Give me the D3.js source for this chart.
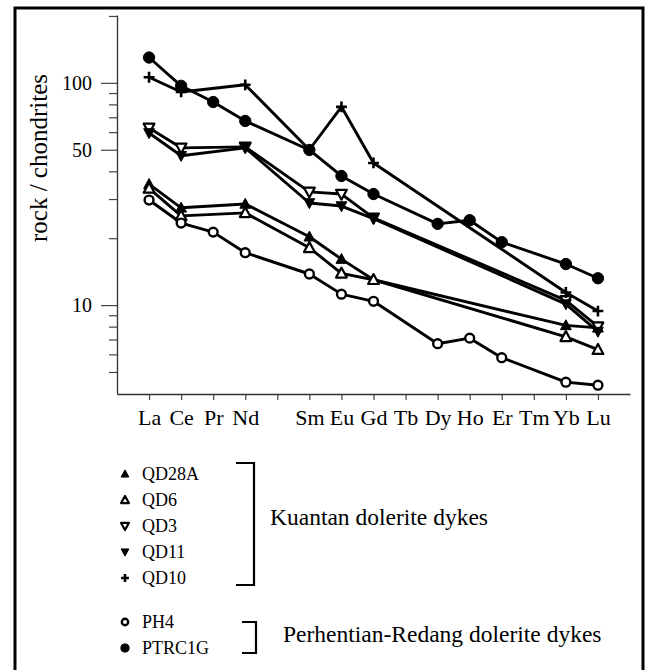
<!DOCTYPE html>
<html>
<head>
<meta charset="utf-8">
<script src="https://cdn.jsdelivr.net/npm/d3@7/dist/d3.min.js"></script>
<style>
  html, body { margin: 0; padding: 0; background: #fff; }
  svg { display: block; }
  text { font-family: "Liberation Serif", "DejaVu Serif", serif; fill: #000; }
</style>
</head>
<body>
<svg id="chart" width="649" height="670"></svg>
<script>
// Rare earth elements in atomic order (Pm has no analysis, only a tick)
const elements = ["La", "Ce", "Pr", "Nd", "Pm", "Sm", "Eu", "Gd", "Tb", "Dy", "Ho", "Er", "Tm", "Yb", "Lu"];
const tickLabels = ["La", "Ce", "Pr", "Nd", "", "Sm", "Eu", "Gd", "Tb", "Dy", "Ho", "Er", "Tm", "Yb", "Lu"];

// Chondrite-normalised abundances (null = not determined)
const QD28A  = [35.0, 27.4, null, 28.5, null, 20.3, 16.1, 13.0, null, null, null, null, null, 8.1, 7.9];
const QD6    = [33.5, 25.2, null, 26.0, null, 18.1, 13.9, 13.0, null, null, null, null, null, 7.2, 6.3];
const QD3    = [62.7, 51.0, null, 51.5, null, 32.3, 31.6, 24.7, null, null, null, null, null, 10.5, 8.0];
const QD11   = [59.5, 47.0, null, 51.0, null, 28.8, 27.9, 24.5, null, null, null, null, null, 10.1, 7.6];
const QD10   = [106, 91, null, 98, null, 50, 78, 43.6, null, null, null, null, null, 11.4, 9.4];
const PH4    = [29.7, 23.4, 21.3, 17.2, null, 13.8, 11.2, 10.4, null, 6.7, 7.1, 5.8, null, 4.5, 4.36];
const PTRC1G = [130, 97, 82, 67.4, null, 49.9, 38.1, 31.6, null, 23.2, 24.1, 19.2, null, 15.3, 13.2];

const yMajorTicks = [10, 50, 100];
const yMinorTicks = [5, 6, 7, 8, 9, 20, 30, 40, 60, 70, 80, 90, 200];

const kuantanLabel = "Kuantan dolerite dykes";
const perhentianLabel = "Perhentian-Redang dolerite dykes";

const series = [
  { name: "QD28A",  values: QD28A,  symbol: "triUp",   filled: true },
  { name: "QD6",    values: QD6,    symbol: "triUp",   filled: false },
  { name: "QD3",    values: QD3,    symbol: "triDown", filled: false },
  { name: "QD11",   values: QD11,   symbol: "triDown", filled: true },
  { name: "QD10",   values: QD10,   symbol: "plus",    filled: true },
  { name: "PH4",    values: PH4,    symbol: "circle",  filled: false },
  { name: "PTRC1G", values: PTRC1G, symbol: "circle",  filled: true }
];

const svg = d3.select("#chart");

// outer frame
svg.append("rect")
  .attr("x", 15).attr("y", 8).attr("width", 628).attr("height", 666)
  .attr("fill", "none").attr("stroke", "#000").attr("stroke-width", 3);

const x = d3.scaleLinear().domain([-1, elements.length]).range([117, 630]);
const y = d3.scaleLog().domain([3.98, 202]).range([394, 15]);

// axes
const axisG = svg.append("g");
const yAxis = axisG.append("g").attr("transform", "translate(117,0)")
  .call(d3.axisLeft(y).tickValues(yMajorTicks).tickFormat(d3.format("d"))
    .tickSize(16).tickSizeOuter(0).tickPadding(9));
const yMinor = axisG.append("g").attr("transform", "translate(117,0)")
  .call(d3.axisLeft(y).tickValues(yMinorTicks).tickFormat("").tickSize(8).tickSizeOuter(0));
const xAxis = axisG.append("g").attr("transform", "translate(0,394)")
  .call(d3.axisBottom(x).tickValues(d3.range(elements.length)).tickFormat(i => tickLabels[i])
    .tickSize(6).tickSizeOuter(0).tickPadding(9));

[yAxis, yMinor, xAxis].forEach(g => {
  g.select(".domain").attr("stroke", "#333").attr("stroke-width", 1.3);
  g.selectAll(".tick line").attr("stroke", "#444").attr("stroke-width", 1.2);
});
yMinor.select(".domain").remove();
yAxis.selectAll(".tick text").attr("font-size", 20).attr("fill", "#000");
xAxis.selectAll(".tick text").attr("font-size", 22).attr("fill", "#000");

// y title
svg.append("text")
  .attr("transform", "translate(47,158) rotate(-90)")
  .attr("text-anchor", "middle")
  .attr("font-size", 25)
  .text("rock / chondrites");

// marker drawing
function drawMarker(g, sym, filled, s) {
  if (sym === "circle") {
    g.append("circle").attr("r", filled ? s * 1.05 : s * 0.82)
      .attr("fill", filled ? "#000" : "#fff")
      .attr("stroke", "#000").attr("stroke-width", filled ? 1 : 2.4);
  } else if (sym === "plus") {
    g.append("path").attr("d", `M${-s},0H${s}M0,${-s}V${s}`)
      .attr("stroke", "#000").attr("stroke-width", 2.6).attr("fill", "none");
  } else {
    const dir = sym === "triUp" ? 1 : -1;
    const h = s * 1.05;
    const p = `M0,${-dir * h}L${s},${dir * h * 0.75}L${-s},${dir * h * 0.75}Z`;
    g.append("path").attr("d", p)
      .attr("fill", filled ? "#000" : "#fff")
      .attr("stroke", "#000").attr("stroke-width", filled ? 1 : 2.2)
      .attr("stroke-linejoin", "round");
  }
}

const line = d3.line().x(d => x(d.i)).y(d => y(d.v));
const plot = svg.append("g");

series.forEach(s => {
  const pts = s.values.map((v, i) => ({ i, v })).filter(d => d.v != null);
  plot.append("path").datum(pts)
    .attr("d", line)
    .attr("fill", "none").attr("stroke", "#000")
    .attr("stroke-width", 2.9).attr("stroke-linejoin", "round");
});
series.forEach(s => {
  const pts = s.values.map((v, i) => ({ i, v })).filter(d => d.v != null);
  pts.forEach(d => {
    const g = plot.append("g").attr("transform", `translate(${x(d.i)},${y(d.v)})`);
    drawMarker(g, s.symbol, s.filled, 5.4);
  });
});

// legend
const legend = svg.append("g");
const legendRows = [474, 500, 526, 552, 578, 622, 648];
series.forEach((s, k) => {
  const g = legend.append("g").attr("transform", `translate(125,${legendRows[k]})`);
  drawMarker(g, s.symbol, s.filled, 3.9);
  legend.append("text")
    .attr("x", 142).attr("y", legendRows[k]).attr("dy", "0.35em")
    .attr("font-size", 18).text(s.name);
});

// group brackets
legend.append("path")
  .attr("d", "M236,463H254V585H236")
  .attr("fill", "none").attr("stroke", "#000").attr("stroke-width", 2.2);
legend.append("path")
  .attr("d", "M242,622H256V653H242")
  .attr("fill", "none").attr("stroke", "#000").attr("stroke-width", 2.2);

legend.append("text").attr("x", 270).attr("y", 517).attr("dy", "0.35em")
  .attr("font-size", 23.5).text(kuantanLabel);
legend.append("text").attr("x", 283).attr("y", 634).attr("dy", "0.35em")
  .attr("font-size", 23.5).text(perhentianLabel);
</script>
</body>
</html>
